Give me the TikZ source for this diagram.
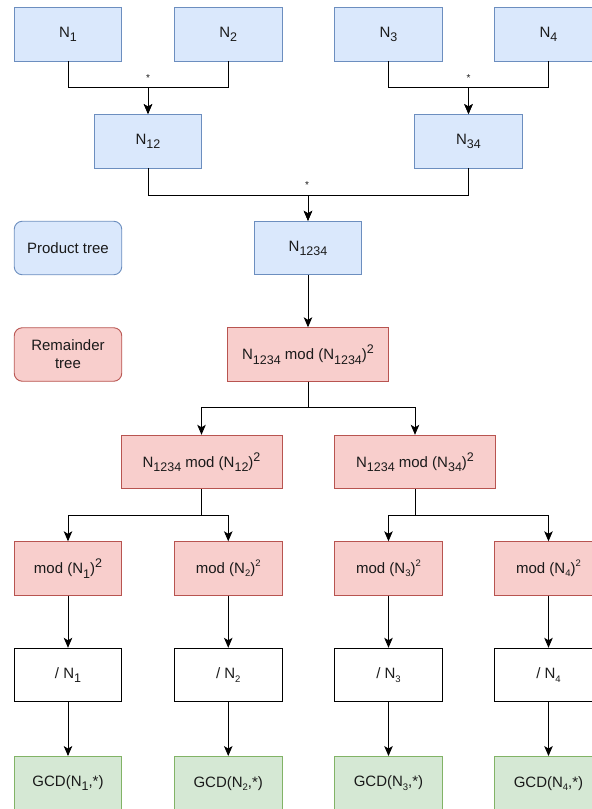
\documentclass[tikz,border=0pt]{standalone}
\usepackage{fontspec}
\setmainfont{Liberation Sans}
\usetikzlibrary{arrows.meta}
\definecolor{bfill}{HTML}{DAE8FC}
\definecolor{bline}{HTML}{6C8EBF}
\definecolor{rfill}{HTML}{F8CECC}
\definecolor{rline}{HTML}{B85450}
\definecolor{gfill}{HTML}{D5E8D4}
\definecolor{gline}{HTML}{82B366}
\definecolor{txt}{HTML}{1A1A1A}
\newcommand\lo[1]{\raisebox{-0.28em}{\fontsize{12.5}{12.5}\selectfont #1}}
\newcommand\hi[1]{\raisebox{0.42em}{\fontsize{12.5}{12.5}\selectfont #1}}
\newcommand\slo[1]{\raisebox{-0.22em}{\fontsize{9.5}{9.5}\selectfont #1}}
\newcommand\shi[1]{\raisebox{0.45em}{\fontsize{9.5}{9.5}\selectfont #1}}
\begin{document}
\begin{tikzpicture}[x=1pt,y=-1pt,
  font=\fontsize{15}{18}\selectfont, text=txt,
  box/.style={draw, minimum width=107.5pt, minimum height=53.5pt, inner sep=0pt, line width=0.9pt, align=center},
  wbox/.style={box, minimum width=161pt},
  blue/.style={fill=bfill, draw=bline},
  red/.style={fill=rfill, draw=rline},
  green/.style={fill=gfill, draw=gline},
  plain/.style={fill=white, draw=black},
  arr/.style={draw=black, line width=0.9pt, -{Stealth[length=10pt,width=8.5pt,inset=2.5pt]}},
  star/.style={font=\fontsize{10}{10}\selectfont, inner sep=0pt}]
\useasboundingbox (0,0) rectangle (592,809);
\clip (0,0) rectangle (592,809);

% product tree
\node[box,blue] (n1) at (68,34.25) {N\lo{1}};
\node[box,blue] (n2) at (228.25,34.25) {N\lo{2}};
\node[box,blue] (n3) at (388.5,34.25) {N\lo{3}};
\node[box,blue] (n4) at (548.5,34.25) {N\lo{4}};
\node[box,blue] (n12) at (148,141.25) {N\lo{12}};
\node[box,blue] (n34) at (468.5,141.25) {N\lo{34}};
\node[box,blue] (n1234) at (308,248) {N\lo{1234}};
\node[box,blue,rounded corners=8pt] (pt) at (68,248) {Product tree};

% remainder tree
\node[box,red,rounded corners=8pt] (rt) at (68,354.5) {Remainder\\tree};
\node[wbox,red] (r0) at (308,354.5) {N\lo{1234} mod (N\lo{1234})\hi{2}};
\node[wbox,red] (r12) at (201.5,462) {N\lo{1234} mod (N\lo{12})\hi{2}};
\node[wbox,red] (r34) at (415,462) {N\lo{1234} mod (N\lo{34})\hi{2}};
\node[box,red] (m1) at (68,568.5) {mod (N\lo{1})\hi{2}};
\node[box,red] (m2) at (228.25,568.5) {mod (N\slo{2})\shi{2}};
\node[box,red] (m3) at (388.5,568.5) {mod (N\slo{3})\shi{2}};
\node[box,red] (m4) at (548.5,568.5) {mod (N\slo{4})\shi{2}};

% division
\node[box,plain] (d1) at (68,675) {/ N\lo{1}};
\node[box,plain] (d2) at (228.25,675) {/ N\slo{2}};
\node[box,plain] (d3) at (388.5,675) {/ N\slo{3}};
\node[box,plain] (d4) at (548.5,675) {/ N\slo{4}};

% gcd
\node[box,green] (g1) at (68,783.25) {GCD(N\lo{1},*)};
\node[box,green] (g2) at (228.25,783.25) {GCD(N\slo{2},*)};
\node[box,green] (g3) at (388.5,783.25) {GCD(N\slo{3},*)};
\node[box,green] (g4) at (548.5,783.25) {GCD(N\slo{4},*)};

% stars
\node[star] (s1) at (148,78) {*};
\node[star] (s2) at (468.5,78) {*};
\node[star] (s3) at (307,185) {*};

% connectors
\draw[arr] (n1.south) -- ++(0,26) -| (n12.north);
\draw[arr] (n2.south) -- ++(0,26) -| (n12.north);
\draw[arr] (n3.south) -- ++(0,26) -| (n34.north);
\draw[arr] (n4.south) -- ++(0,26) -| (n34.north);
\draw[arr] (n12.south) -- ++(0,26.5) -| (n1234.north);
\draw[arr] (n34.south) -- ++(0,26.5) -| (n1234.north);
\draw[arr] (n1234) -- (r0);
\draw[arr] (r0.south) -- ++(0,26) -| (r12.north);
\draw[arr] (r0.south) -- ++(0,26) -| (r34.north);
\draw[arr] (r12.south) -- ++(0,26.5) -| (m1.north);
\draw[arr] (r12.south) -- ++(0,26.5) -| (m2.north);
\draw[arr] (r34.south) -- ++(0,26.5) -| (m3.north);
\draw[arr] (r34.south) -- ++(0,26.5) -| (m4.north);
\draw[arr] (m1) -- (d1);
\draw[arr] (m2) -- (d2);
\draw[arr] (m3) -- (d3);
\draw[arr] (m4) -- (d4);
\draw[arr] (d1) -- (g1);
\draw[arr] (d2) -- (g2);
\draw[arr] (d3) -- (g3);
\draw[arr] (d4) -- (g4);
\end{tikzpicture}
\end{document}
